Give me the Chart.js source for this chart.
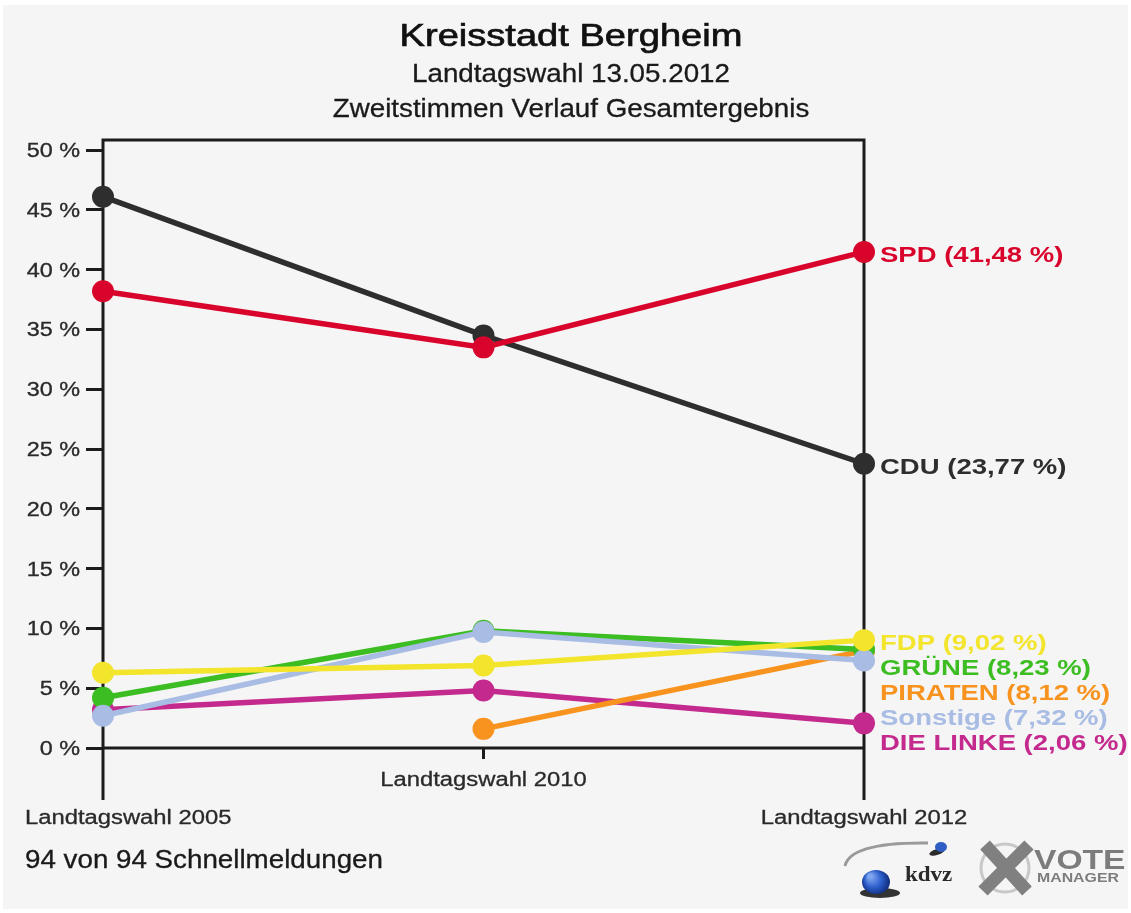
<!DOCTYPE html>
<html>
<head>
<meta charset="utf-8">
<script src="https://cdn.jsdelivr.net/npm/chart.js@4"></script>
<style>
  html, body { margin: 0; padding: 0; background: #ffffff; }
  canvas { display: block; }
</style>
</head>
<body>
<canvas id="myChart" width="1131" height="913"></canvas>
<script>
// values (percent of Zweitstimmen)
const categories = ['Landtagswahl 2005', 'Landtagswahl 2010', 'Landtagswahl 2012'];
const partyNames = ['SPD', 'CDU', 'FDP', 'GRÜNE', 'PIRATEN', 'Sonstige', 'DIE LINKE'];
const spd = [38.2, 33.5, 41.48];
const cdu = [46.1, 34.5, 23.77];
const fdp = [6.3, 6.9, 9.02];
const gruene = [4.2, 9.8, 8.23];
const piraten = [null, 1.6, 8.12];
const sonstige = [2.7, 9.7, 7.32];
const linke = [3.2, 4.8, 2.06];
const partyColors = ['#d9042b', '#2e2e2e', '#f3e42c', '#3cbd22', '#f7931e', '#a8bce4', '#c42a8d'];
const tickValues = [0, 5, 10, 15, 20, 25, 30, 35, 40, 45, 50];
const tickLabels = ['0 %', '5 %', '10 %', '15 %', '20 %', '25 %', '30 %', '35 %', '40 %', '45 %', '50 %'];
const titleLines = ['Kreisstadt Bergheim', 'Landtagswahl 13.05.2012', 'Zweitstimmen Verlauf Gesamtergebnis'];
const footerText = '94 von 94 Schnellmeldungen';

const series = [spd, cdu, fdp, gruene, piraten, sonstige, linke];
// lower number is drawn on top
const drawOrder = [0, 1, 2, 4, 4, 3, 5];

// draws text stretched horizontally, like the original image
function drawText(ctx, text, x, y, font, color, align, sx, minLeft, stroke) {
    ctx.save();
    ctx.font = font;
    ctx.fillStyle = color;
    ctx.textBaseline = 'alphabetic';
    ctx.textAlign = 'left';
    const w = ctx.measureText(text).width * sx;
    let left = x;
    if (align === 'center') left = x - w / 2;
    if (align === 'right') left = x - w;
    if (minLeft !== undefined && left < minLeft) left = minLeft;
    ctx.translate(left, y);
    ctx.scale(sx, 1);
    ctx.fillText(text, 0, 0);
    if (stroke) {
        ctx.strokeStyle = color;
        ctx.lineWidth = stroke;
        ctx.strokeText(text, 0, 0);
    }
    ctx.restore();
}

const backgroundPlugin = {
    id: 'background',
    beforeDraw(chart) {
        const ctx = chart.ctx;
        ctx.save();
        ctx.fillStyle = '#ffffff';
        ctx.fillRect(0, 0, chart.width, chart.height);
        ctx.fillStyle = '#f5f5f5';
        ctx.fillRect(3, 5, chart.width - 6, chart.height - 9);
        ctx.restore();
    }
};

const framePlugin = {
    id: 'frame',
    beforeDatasetsDraw(chart) {
        const ctx = chart.ctx;
        const x = chart.scales.x;
        const y = chart.scales.y;
        const xl = x.getPixelForValue(0);
        const xm = x.getPixelForValue(1);
        const xr = x.getPixelForValue(2);
        const top = chart.chartArea.top;
        const y0 = y.getPixelForValue(0);
        ctx.save();
        ctx.strokeStyle = '#1c1c1c';
        ctx.lineWidth = 3;
        ctx.lineCap = 'butt';
        ctx.beginPath();
        ctx.moveTo(xl, y0 + 52); ctx.lineTo(xl, top); ctx.lineTo(xr, top); ctx.lineTo(xr, y0 + 52);
        ctx.moveTo(xl, y0); ctx.lineTo(xr, y0);
        ctx.moveTo(xm, y0); ctx.lineTo(xm, y0 + 11);
        ctx.stroke();
        ctx.restore();

        // y tick labels
        y.ticks.forEach((t, i) => {
            const py = y.getPixelForValue(t.value);
            drawText(ctx, tickLabels[i], 80, py + 7, '20px "Liberation Sans"', '#2a2a2a', 'right', 1.17, undefined, 0.3);
        });
        // x labels, staggered
        categories.forEach((c, i) => {
            const px = x.getPixelForValue(i);
            const by = i === 1 ? y0 + 38 : y0 + 76;
            drawText(ctx, c, px, by, '20px "Liberation Sans"', '#2a2a2a', 'center', 1.19, 25, 0.3);
        });
    }
};

const labelPlugin = {
    id: 'endLabels',
    afterDatasetsDraw(chart) {
        const ctx = chart.ctx;
        const y = chart.scales.y;
        const x = chart.scales.x;
        const last = categories.length - 1;
        const items = series.map((s, i) => ({
            text: partyNames[i] + ' (' + s[last].toFixed(2).replace('.', ',') + ' %)',
            color: partyColors[i],
            py: y.getPixelForValue(s[last])
        })).sort((a, b) => a.py - b.py);
        let prev = -1000;
        items.forEach(it => {
            const ly = Math.max(it.py, prev + 25);
            prev = ly;
            drawText(ctx, it.text, x.getPixelForValue(last) + 16, ly + 10, 'bold 22px "Liberation Sans"', it.color, 'left', 1.25);
        });
    }
};

const textPlugin = {
    id: 'texts',
    afterDraw(chart) {
        const ctx = chart.ctx;
        const cx = 571;
        drawText(ctx, titleLines[0], cx, 46, '32px "Liberation Sans"', '#111111', 'center', 1.19, undefined, 0.7);
        drawText(ctx, titleLines[1], cx, 82, '25px "Liberation Sans"', '#1a1a1a', 'center', 1.11, undefined, 0.3);
        drawText(ctx, titleLines[2], cx, 117, '25px "Liberation Sans"', '#1a1a1a', 'center', 1.11, undefined, 0.3);
        drawText(ctx, footerText, 25, 868, '25px "Liberation Sans"', '#1a1a1a', 'left', 1.11, undefined, 0.3);

        // kdvz / VOTE MANAGER logo
        ctx.save();
        ctx.strokeStyle = '#9a9a9a';
        ctx.lineWidth = 3;
        ctx.beginPath();
        ctx.moveTo(845, 866);
        ctx.quadraticCurveTo(850, 842, 928, 843);
        ctx.stroke();
        ctx.fillStyle = '#2b2b2b';
        ctx.beginPath(); ctx.ellipse(937, 852, 8, 3, -0.3, 0, Math.PI * 2); ctx.fill();
        ctx.fillStyle = '#2f5fc4';
        ctx.beginPath(); ctx.ellipse(941, 847, 6, 5, 0, 0, Math.PI * 2); ctx.fill();
        ctx.fillStyle = '#333333';
        ctx.beginPath(); ctx.ellipse(880, 893, 20, 5, 0, 0, Math.PI * 2); ctx.fill();
        const g = ctx.createRadialGradient(870, 876, 2, 876, 882, 15);
        g.addColorStop(0, '#7fa6f0');
        g.addColorStop(0.5, '#2d5fcc');
        g.addColorStop(1, '#0c2470');
        ctx.fillStyle = g;
        ctx.beginPath(); ctx.ellipse(876, 882, 14, 12, 0, 0, Math.PI * 2); ctx.fill();
        ctx.strokeStyle = '#c8c8c8';
        ctx.lineWidth = 3;
        ctx.beginPath(); ctx.arc(1005, 868, 24, 0, Math.PI * 2); ctx.stroke();
        ctx.strokeStyle = '#808080';
        ctx.lineWidth = 13;
        ctx.beginPath();
        ctx.moveTo(985, 845); ctx.lineTo(1027, 891);
        ctx.moveTo(1029, 845); ctx.lineTo(983, 891);
        ctx.stroke();
        ctx.restore();
        drawText(ctx, 'kdvz', 905, 881, 'bold 20px "Liberation Serif"', '#2a2a2a', 'left', 1.15);
        drawText(ctx, 'VOTE', 1034, 869, 'bold 28px "Liberation Sans"', '#7c7c7c', 'left', 1.2);
        drawText(ctx, 'MANAGER', 1037, 882, 'bold 13px "Liberation Sans"', '#7c7c7c', 'left', 1.22);
    }
};

const datasets = series.map((s, i) => ({
    label: partyNames[i],
    data: s,
    order: drawOrder[i],
    borderColor: partyColors[i],
    backgroundColor: partyColors[i],
    pointBackgroundColor: partyColors[i],
    borderWidth: 5.5,
    pointRadius: 11,
    pointHoverRadius: 11,
    pointBorderWidth: 0,
    tension: 0,
    spanGaps: false,
    clip: false
}));

const config = {
    type: 'line',
    data: {
        labels: categories,
        datasets: datasets
    },
    options: {
        responsive: false,
        animation: false,
        events: [],
        layout: {
            padding: { top: 140, bottom: 165, left: 0, right: 267 }
        },
        plugins: {
            legend: { display: false },
            title: { display: false },
            tooltip: { enabled: false }
        },
        scales: {
            x: {
                type: 'category',
                display: false,
                offset: false
            },
            y: {
                min: 0,
                max: 50.84,
                afterBuildTicks: s => { s.ticks = tickValues.map(v => ({ value: v })); },
                afterFit: s => { s.width = 103; },
                ticks: { display: false },
                border: { display: false },
                grid: {
                    drawOnChartArea: false,
                    drawTicks: true,
                    tickLength: 17,
                    color: '#1c1c1c',
                    lineWidth: 3
                }
            }
        }
    },
    plugins: [backgroundPlugin, framePlugin, labelPlugin, textPlugin]
};

const ctx = document.getElementById('myChart');
let newChart = new Chart(ctx, config);
</script>
</body>
</html>
